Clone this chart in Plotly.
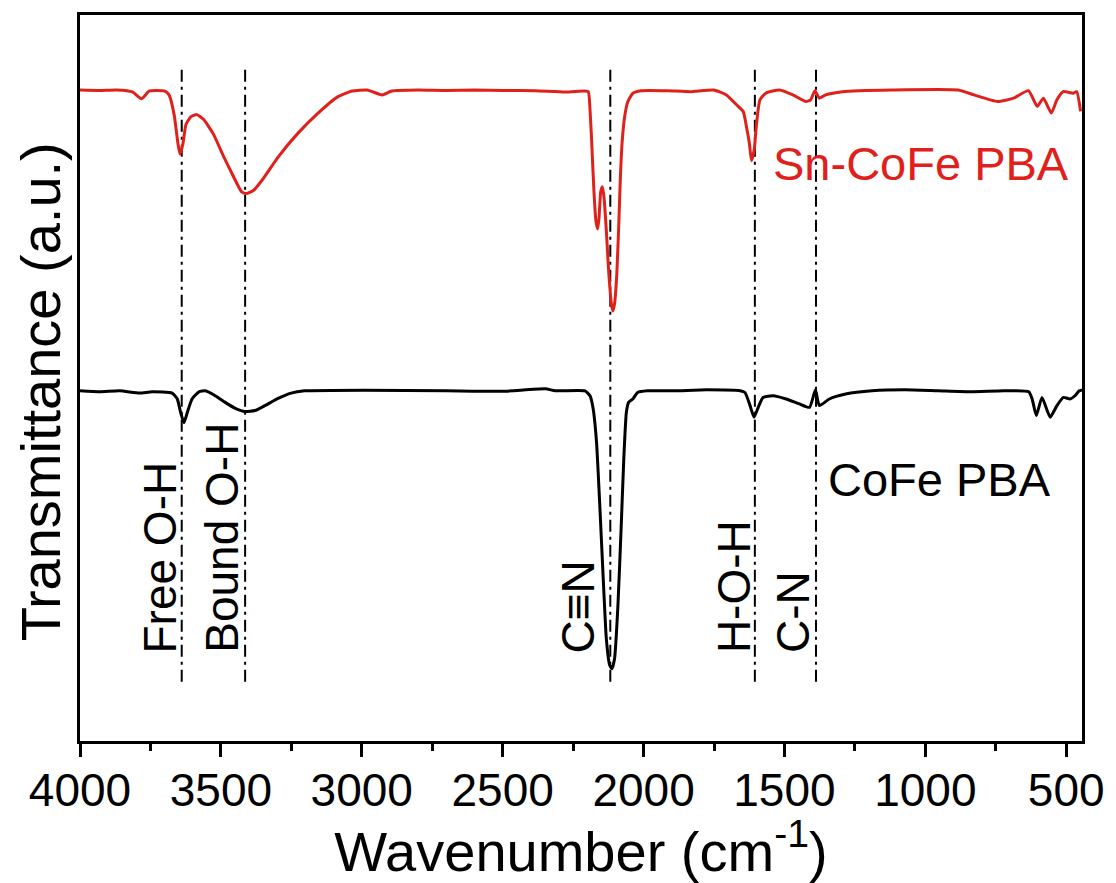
import plotly.graph_objects as go

# ---------------- data ----------------
sn_wn = [4000, 3930, 3870, 3814, 3782, 3754, 3729, 3701, 3684, 3666, 3652, 3645, 3635, 3624,
         3606, 3585, 3561, 3526, 3491, 3455, 3427, 3410, 3385, 3350, 3297, 3227, 3157, 3086,
         3034, 2981, 2928, 2893, 2800, 2700, 2600, 2500, 2384, 2278, 2208, 2196, 2190, 2184,
         2176, 2169, 2163, 2158, 2152, 2146, 2140, 2132, 2124, 2114, 2109, 2103, 2095, 2088,
         2082, 2076, 2067, 2056, 2038, 2009, 1916, 1833, 1751, 1706, 1670, 1646, 1635, 1625,
         1617, 1607, 1600, 1587, 1565, 1517, 1470, 1424, 1407, 1392, 1376, 1354, 1294, 1119,
         884, 827, 744, 687, 634, 603, 581, 553, 533, 511, 476, 463, 449]
sn_t = [66.0, 65.95, 66.0, 65.8, 65.1, 65.9, 65.95, 65.9, 65.5, 63.5, 60.5, 59.5, 60.5, 62.5,
        63.3, 63.5, 63.0, 61.5, 59.3, 57.2, 55.7, 55.5, 55.8, 57.0, 59.2, 61.6, 63.6, 65.3,
        65.9, 66.0, 65.5, 65.9, 66.0, 65.95, 66.0, 65.95, 65.93, 65.8, 65.9, 65.83, 64.0, 60.7,
        55.7, 52.7, 51.9, 53.0, 55.7, 56.2, 55.0, 51.7, 47.7, 44.3, 43.6, 44.3, 47.3, 52.3,
        57.3, 60.7, 63.3, 64.8, 65.67, 65.93, 65.93, 65.83, 66.0, 65.5, 64.5, 63.8, 62.3, 60.7,
        58.83, 60.0, 62.3, 65.0, 65.7, 66.0, 65.5, 64.83, 65.0, 65.93, 65.17, 65.5, 65.83, 66.0,
        66.0, 65.5, 64.83, 65.17, 65.93, 64.33, 65.17, 63.67, 65.0, 65.83, 65.67, 65.83, 63.83]

co_wn = [4000, 3930, 3859, 3789, 3744, 3673, 3655, 3643, 3631, 3619, 3602, 3578, 3555, 3520,
         3485, 3449, 3414, 3379, 3344, 3297, 3251, 3203, 2993, 2700, 2500, 2349, 2313, 2208,
         2190, 2179, 2167, 2155, 2144, 2132, 2120, 2112, 2103, 2091, 2079, 2070, 2061, 2053,
         2038, 2021, 1986, 1892, 1775, 1657, 1640, 1622, 1608, 1593, 1576, 1540, 1494, 1447,
         1411, 1390, 1376, 1341, 1283, 1189, 1072, 955, 838, 721, 633, 621, 606, 586, 557,
         533, 510, 486, 469, 454, 444]
co_t = [35.5, 35.4, 35.5, 35.27, 35.4, 35.27, 34.7, 33.33, 32.27, 33.33, 34.7, 35.4, 35.5, 35.0,
        34.33, 33.73, 33.4, 33.5, 34.0, 34.73, 35.27, 35.5, 35.57, 35.5, 35.45, 35.7, 35.5, 35.5,
        35.0, 33.7, 30.33, 23.7, 17.0, 10.33, 7.67, 7.33, 8.33, 13.7, 22.0, 28.7, 33.33, 34.33,
        34.67, 35.33, 35.5, 35.5, 35.6, 35.5, 35.33, 34.0, 32.83, 33.83, 34.83, 35.0, 34.67, 34.17,
        33.83, 35.6, 34.0, 34.67, 35.17, 35.5, 35.6, 35.5, 35.4, 35.5, 35.4, 34.67, 33.0, 34.83, 32.83,
        34.0, 34.83, 34.67, 35.0, 35.5, 35.6]

band_wn = [3639, 3414, 2118, 1605, 1388]
band_labels = ["Free O-H", "Bound O-H", "C\u2261N", "H-O-H", "C-N"]
label_wn = [3715, 3494, 2233, 1681, 1470]
line_span = [6.0, 68.2]

sample_names = ["Sn-CoFe PBA", "CoFe PBA"]
sample_label_pos = [(1017, 58.5), (950, 26.5)]

x_ticks = [4000, 3500, 3000, 2500, 2000, 1500, 1000, 500]

x_title = "Wavenumber (cm<sup>-1</sup>)"
y_title = "Transmittance (a.u.)"

RED = "#e0201b"
FONT = "Liberation Sans, Arial, sans-serif"

fig = go.Figure()

for wn in band_wn:
    fig.add_trace(go.Scatter(x=[wn, wn], y=line_span, mode="lines",
                             line=dict(color="black", width=2, dash="12px,5px,3px,5px"),
                             showlegend=False, hoverinfo="skip"))

fig.add_trace(go.Scatter(x=sn_wn, y=sn_t, mode="lines", line=dict(color=RED, width=3, shape="spline", smoothing=0.5),
                         name=sample_names[0], showlegend=False))
fig.add_trace(go.Scatter(x=co_wn, y=co_t, mode="lines", line=dict(color="black", width=3, shape="spline", smoothing=0.5),
                         name=sample_names[1], showlegend=False))

for lab, xw in zip(band_labels, label_wn):
    fig.add_annotation(x=xw, y=8.7, text=lab, textangle=-90, showarrow=False,
                       xanchor="center", yanchor="bottom",
                       font=dict(family=FONT, size=46, color="black"))

fig.add_annotation(x=sample_label_pos[0][0], y=sample_label_pos[0][1], text=sample_names[0],
                   showarrow=False, xanchor="center", yanchor="middle",
                   font=dict(family=FONT, size=47, color=RED))
fig.add_annotation(x=sample_label_pos[1][0], y=sample_label_pos[1][1], text=sample_names[1],
                   showarrow=False, xanchor="center", yanchor="middle",
                   font=dict(family=FONT, size=47, color="black"))

# y-axis title placed as a rotated annotation (lets it sit where the reference has it)
fig.add_annotation(xref="paper", yref="paper", x=-0.0395, y=0.481, text=y_title, textangle=-90,
                   showarrow=False, xanchor="center", yanchor="middle",
                   font=dict(family=FONT, size=56, color="black"))

fig.update_layout(
    width=1116, height=883,
    margin=dict(l=80, r=24, t=14, b=133),
    paper_bgcolor="white", plot_bgcolor="white",
    font=dict(family=FONT, color="black"),
    showlegend=False,
    xaxis=dict(range=[4000, 444], showgrid=False, zeroline=False,
               showline=True, linecolor="black", linewidth=3, mirror=True,
               ticks="outside", ticklen=13, tickwidth=3, tickcolor="black",
               tickvals=x_ticks, ticktext=[str(v) for v in x_ticks],
               tickfont=dict(family=FONT, size=46, color="black"),
               ticklabelstandoff=-6,
               minor=dict(ticks="outside", ticklen=7, tickwidth=3, tickcolor="black", dtick=250, tick0=0),
               title=dict(text=x_title, font=dict(family=FONT, size=56, color="black"),
                          standoff=16)),
    yaxis=dict(range=[0, 73.6], showgrid=False, zeroline=False,
               showline=True, linecolor="black", linewidth=3, mirror=True,
               ticks="", showticklabels=False),
)

fig.write_html("out.html")
